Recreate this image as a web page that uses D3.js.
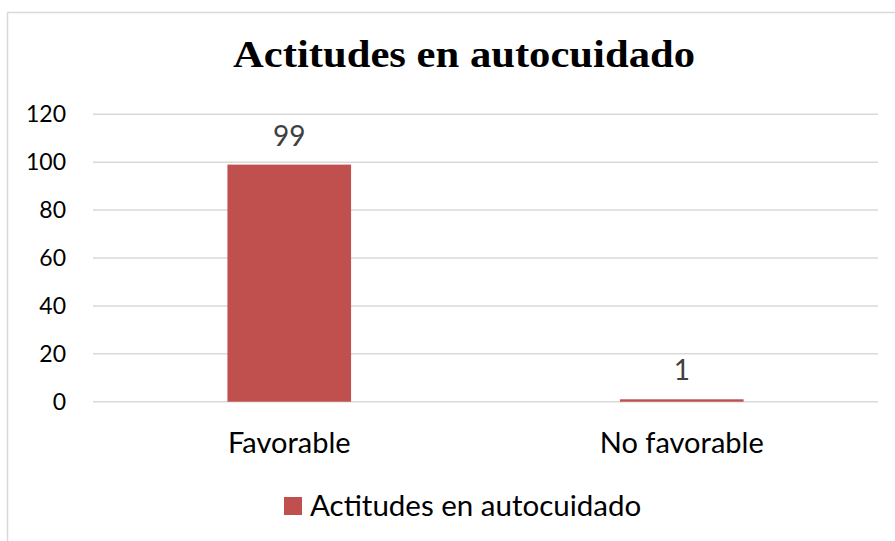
<!DOCTYPE html>
<html>
<head>
<meta charset="utf-8">
<script src="https://cdn.jsdelivr.net/npm/d3@7"></script>
<style>
  body { margin: 0; background: #fff; }
  svg { display: block; }
</style>
</head>
<body>
<script>
// data
var categories = ['Favorable', 'No favorable'];
var values = [99, 1];
var yTicks = [0, 20, 40, 60, 80, 100, 120];
var seriesName = 'Actitudes en autocuidado';
var chartTitle = 'Actitudes en autocuidado';

var width = 895, height = 541;
var font = 'Lato, "Open Sans", sans-serif';
var barColor = '#c0504d';

var svg = d3.select('body').append('svg')
    .attr('width', width).attr('height', height);

// chart frame, runs off the right and bottom edge
svg.append('rect')
    .attr('x', 7.5).attr('y', 12.5)
    .attr('width', 900).attr('height', 540)
    .attr('fill', '#fff').attr('stroke', '#d9d9d9').attr('stroke-width', 1.5);

var x = d3.scaleBand().domain(categories).range([93, 878]).padding(0);
var y = d3.scaleLinear().domain([0, 120]).range([401.7, 114.3]);

// gridlines
svg.append('g').selectAll('line')
    .data(yTicks).enter().append('line')
    .attr('x1', 93).attr('x2', 878)
    .attr('y1', function(d) { return y(d); })
    .attr('y2', function(d) { return y(d); })
    .attr('stroke', '#d9d9d9').attr('stroke-width', 1.5);

// y axis labels
var yAxis = d3.axisLeft(y).tickValues(yTicks).tickSize(0).tickPadding(0);
var gy = svg.append('g').attr('transform', 'translate(66,0)').call(yAxis);
gy.select('.domain').remove();
gy.selectAll('text')
    .attr('font-family', font).attr('font-size', 23).attr('fill', '#000');

// bars
var barW = x.bandwidth() * 0.315;
svg.append('g').selectAll('rect')
    .data(values).enter().append('rect')
    .attr('x', function(d, i) { return x(categories[i]) + x.bandwidth() / 2 - barW / 2; })
    .attr('y', function(d) { return y(d); })
    .attr('width', barW)
    .attr('height', function(d) { return y(0) - y(d); })
    .attr('fill', barColor);

// data labels
svg.append('g').selectAll('text')
    .data(values).enter().append('text')
    .attr('x', function(d, i) { return x(categories[i]) + x.bandwidth() / 2; })
    .attr('y', function(d) { return y(d) - 19; })
    .attr('text-anchor', 'middle')
    .attr('font-family', font).attr('font-size', 28).attr('fill', '#404040')
    .text(function(d) { return d; });

// x axis labels
var xAxis = d3.axisBottom(x).tickSize(0).tickPadding(0);
var gx = svg.append('g').attr('transform', 'translate(0,0)').call(xAxis);
gx.select('.domain').remove();
gx.selectAll('text')
    .attr('y', 453).attr('dy', null)
    .attr('font-family', font).attr('font-size', 29).attr('fill', '#000');

// title
svg.append('text')
    .attr('x', 464).attr('y', 67)
    .attr('text-anchor', 'middle')
    .attr('font-family', '"Liberation Serif", "Times New Roman", serif')
    .attr('font-weight', 'bold').attr('font-size', 38)
    .attr('textLength', 462).attr('lengthAdjust', 'spacingAndGlyphs')
    .text(chartTitle);

// legend
var lg = svg.append('g').attr('transform', 'translate(284,497)');
lg.append('rect').attr('width', 18).attr('height', 18).attr('fill', barColor);
lg.append('text')
    .attr('x', 26).attr('y', 18.5)
    .attr('font-family', font).attr('font-size', 29.5).attr('fill', '#000')
    .text(seriesName);
</script>
</body>
</html>
